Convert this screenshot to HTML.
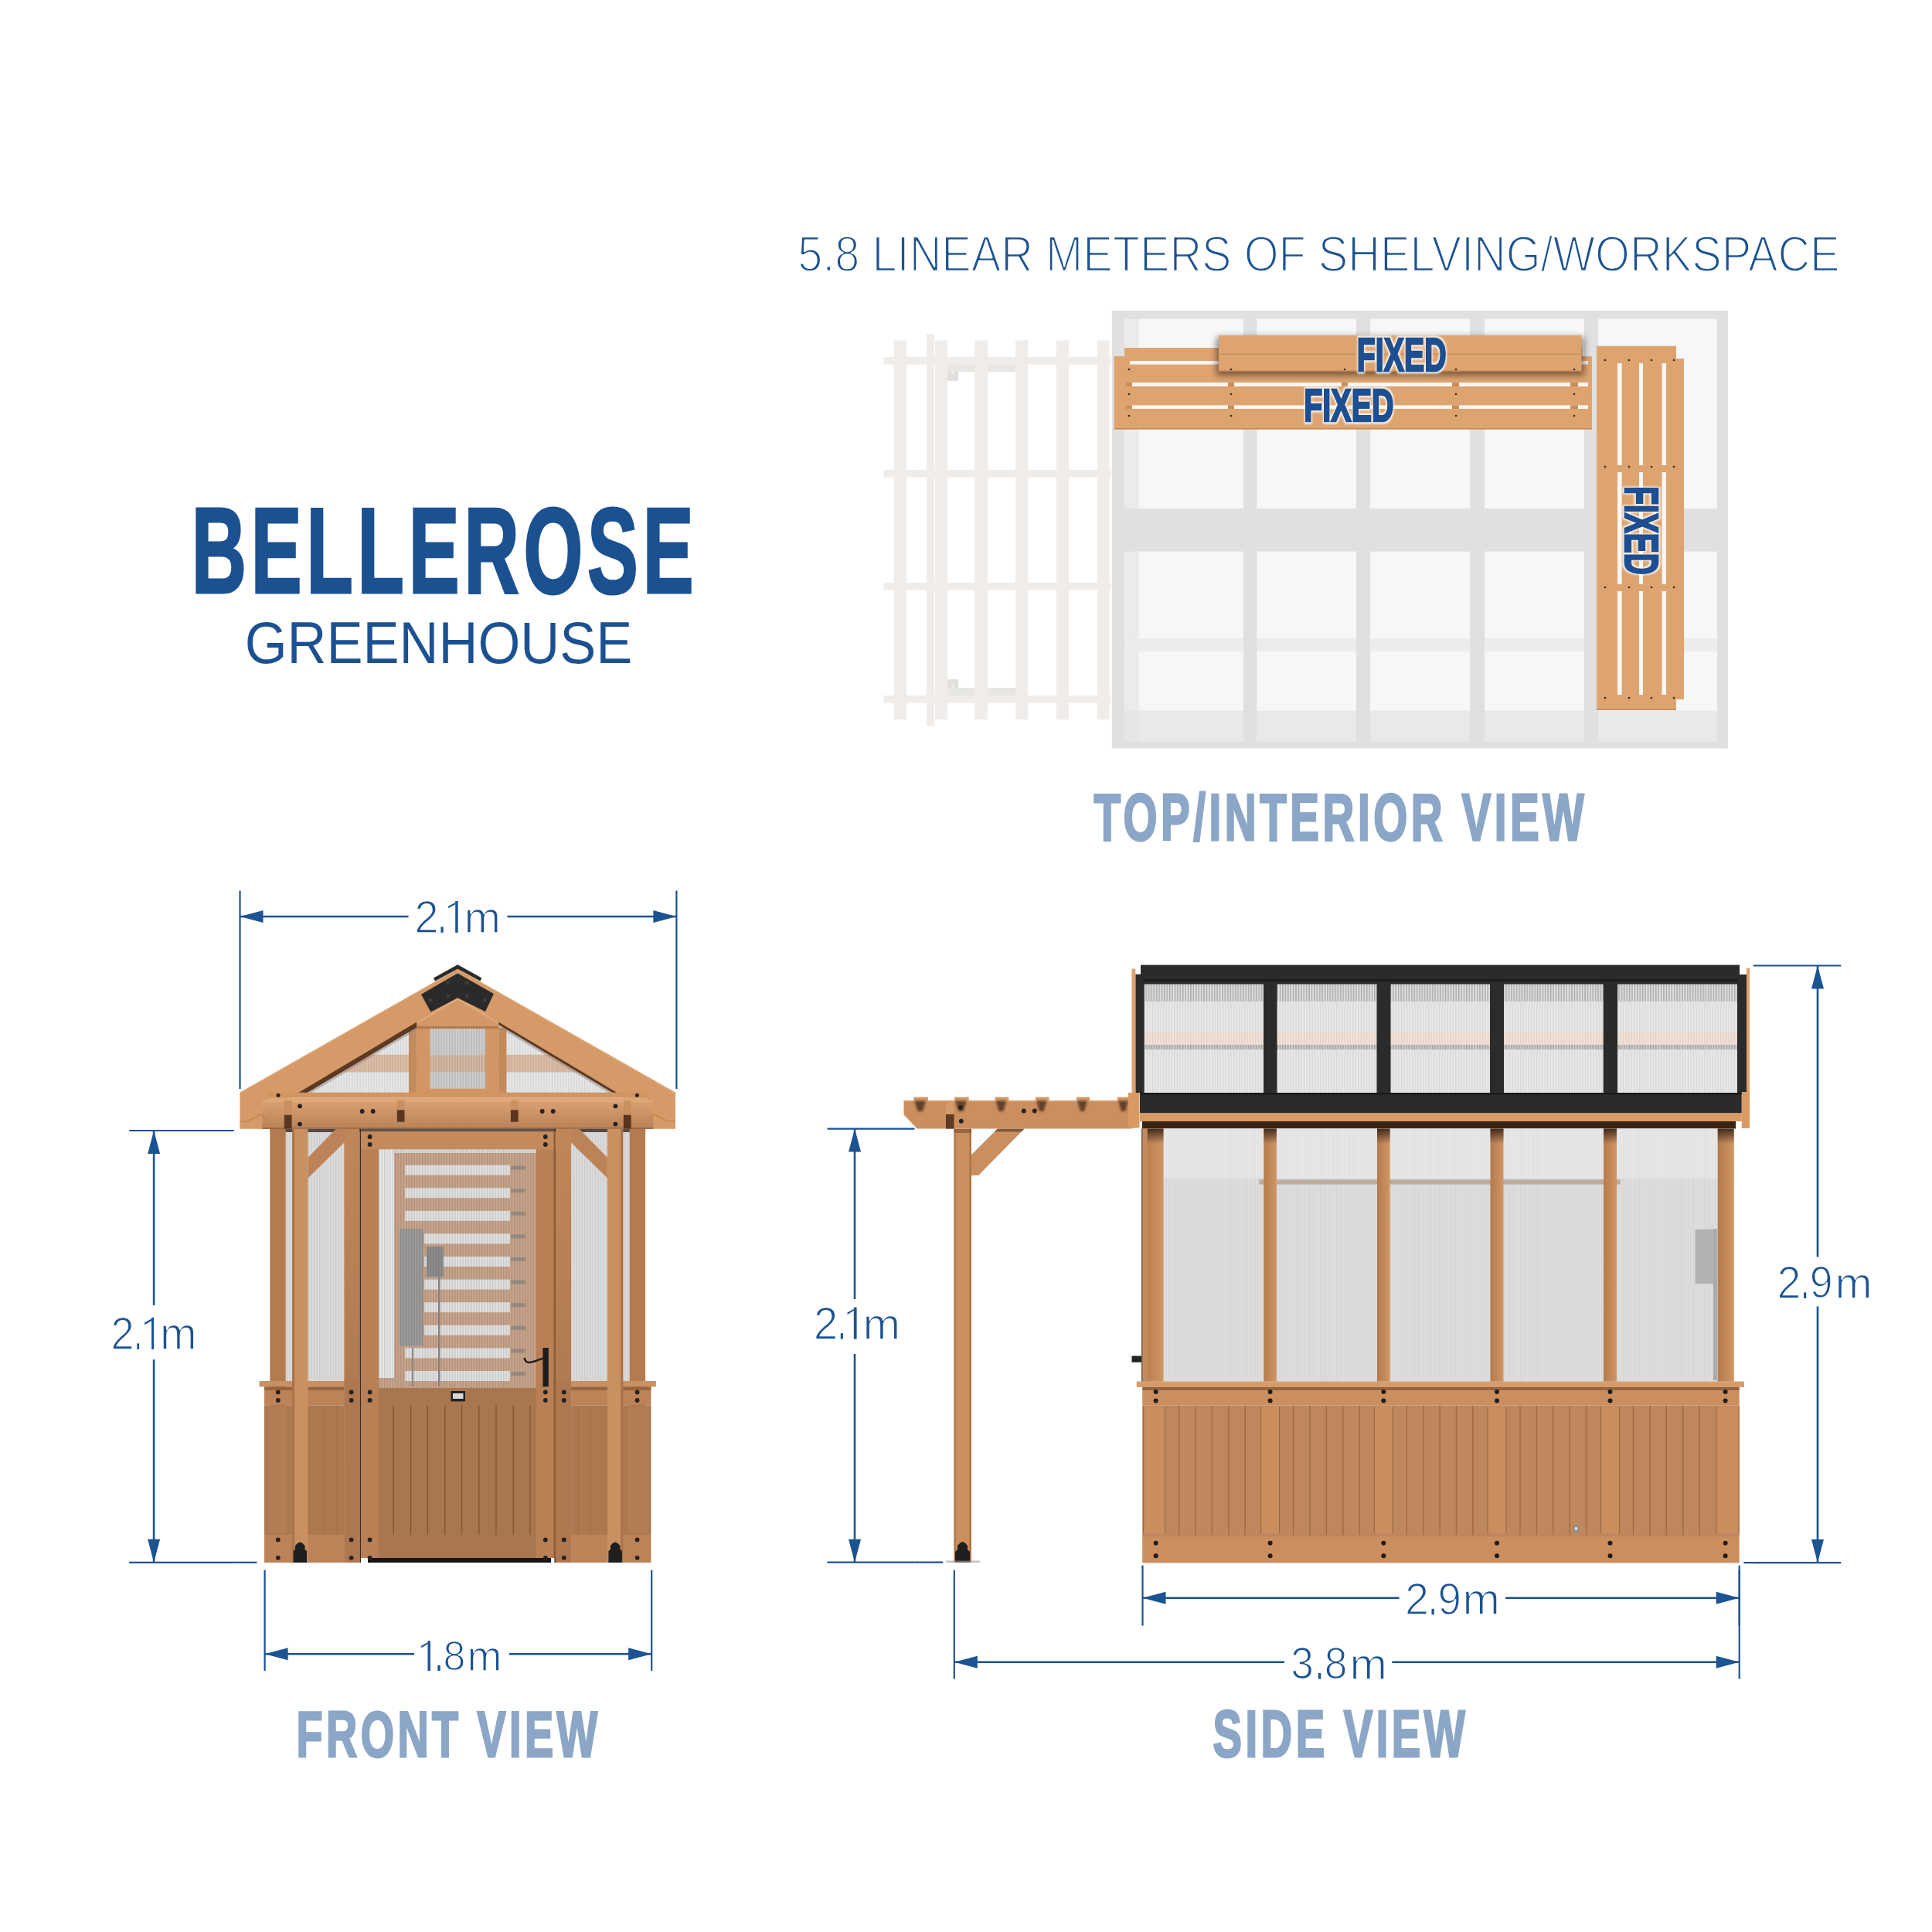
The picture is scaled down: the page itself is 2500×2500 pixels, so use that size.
<!DOCTYPE html><html><head><meta charset="utf-8"><style>html,body{margin:0;padding:0;background:#fff;overflow:hidden}svg{display:block}</style></head><body><svg width="2500" height="2500" viewBox="0 0 2500 2500"><rect width="2500" height="2500" fill="#fff"/><rect x="1143.50" y="462.00" width="293.50" height="9.60" fill="#efece9"/>
<rect x="1143.50" y="608.00" width="293.50" height="9.60" fill="#efece9"/>
<rect x="1143.50" y="754.00" width="293.50" height="9.50" fill="#efece9"/>
<rect x="1143.50" y="900.00" width="293.50" height="9.50" fill="#efece9"/>
<rect x="1226.00" y="471.60" width="14.00" height="21.40" fill="#e2e0dd"/>
<rect x="1226.00" y="471.60" width="88.00" height="9.40" fill="#e8e6e3"/>
<rect x="1226.00" y="879.00" width="14.00" height="21.00" fill="#e2e0dd"/>
<rect x="1226.00" y="890.00" width="88.00" height="10.00" fill="#e8e6e3"/>
<circle cx="1233.00" cy="482.00" r="1.4" fill="#f8f8f8"/>
<circle cx="1233.00" cy="888.00" r="1.4" fill="#f8f8f8"/>
<rect x="1157.00" y="440.50" width="16.00" height="490.50" fill="#efece9"/>
<rect x="1199.00" y="432.00" width="10.00" height="507.00" fill="#efece9"/>
<rect x="1210.00" y="440.50" width="16.00" height="490.50" fill="#efece9"/>
<rect x="1261.00" y="440.50" width="17.00" height="490.50" fill="#efece9"/>
<rect x="1314.00" y="440.50" width="16.00" height="490.50" fill="#efece9"/>
<rect x="1367.00" y="440.50" width="16.00" height="490.50" fill="#efece9"/>
<rect x="1420.00" y="440.50" width="15.50" height="490.50" fill="#efece9"/>
<rect x="1438.80" y="402.00" width="797.20" height="566.50" fill="#e0e0e0"/>
<rect x="1454.80" y="412.60" width="18.80" height="245.40" fill="#ebebeb"/>
<rect x="1473.60" y="412.60" width="135.40" height="245.40" fill="#f7f7f7"/>
<rect x="1626.50" y="412.60" width="128.50" height="245.40" fill="#f7f7f7"/>
<rect x="1773.00" y="412.60" width="129.00" height="245.40" fill="#f7f7f7"/>
<rect x="1921.00" y="412.60" width="129.00" height="245.40" fill="#f7f7f7"/>
<rect x="2068.00" y="412.60" width="154.00" height="245.40" fill="#f7f7f7"/>
<rect x="1454.80" y="713.60" width="18.80" height="112.90" fill="#ebebeb"/>
<rect x="1473.60" y="713.60" width="135.40" height="112.90" fill="#f7f7f7"/>
<rect x="1626.50" y="713.60" width="128.50" height="112.90" fill="#f7f7f7"/>
<rect x="1773.00" y="713.60" width="129.00" height="112.90" fill="#f7f7f7"/>
<rect x="1921.00" y="713.60" width="129.00" height="112.90" fill="#f7f7f7"/>
<rect x="2068.00" y="713.60" width="154.00" height="112.90" fill="#f7f7f7"/>
<rect x="1454.80" y="842.40" width="18.80" height="117.00" fill="#ebebeb"/>
<rect x="1473.60" y="842.40" width="135.40" height="117.00" fill="#f7f7f7"/>
<rect x="1626.50" y="842.40" width="128.50" height="117.00" fill="#f7f7f7"/>
<rect x="1773.00" y="842.40" width="129.00" height="117.00" fill="#f7f7f7"/>
<rect x="1921.00" y="842.40" width="129.00" height="117.00" fill="#f7f7f7"/>
<rect x="2068.00" y="842.40" width="154.00" height="117.00" fill="#f7f7f7"/>
<rect x="1473.60" y="826.50" width="135.40" height="15.90" fill="#ececeb"/>
<rect x="1626.50" y="826.50" width="128.50" height="15.90" fill="#ececeb"/>
<rect x="1773.00" y="826.50" width="129.00" height="15.90" fill="#ececeb"/>
<rect x="1921.00" y="826.50" width="129.00" height="15.90" fill="#ececeb"/>
<rect x="2068.00" y="826.50" width="154.00" height="15.90" fill="#ececeb"/>
<rect x="1454.80" y="826.50" width="18.80" height="15.90" fill="#ececeb"/>
<rect x="1473.60" y="919.70" width="135.40" height="39.70" fill="#e9e9e9"/>
<rect x="1626.50" y="919.70" width="128.50" height="39.70" fill="#e9e9e9"/>
<rect x="1773.00" y="919.70" width="129.00" height="39.70" fill="#e9e9e9"/>
<rect x="1921.00" y="919.70" width="129.00" height="39.70" fill="#e9e9e9"/>
<rect x="2068.00" y="919.70" width="154.00" height="39.70" fill="#e9e9e9"/>
<rect x="1454.80" y="919.70" width="18.80" height="39.70" fill="#e6e6e6"/>
<rect x="1441.60" y="461.00" width="618.40" height="94.50" fill="#dea470"/>
<rect x="1455.00" y="450.00" width="592.00" height="20.00" fill="#dea470"/>
<rect x="1462.00" y="467.00" width="593.00" height="4.60" fill="#fbf6f1"/>
<rect x="1462.00" y="495.00" width="593.00" height="5.00" fill="#fbf6f1"/>
<rect x="1462.00" y="524.40" width="593.00" height="4.60" fill="#fbf6f1"/>
<rect x="1457.00" y="495.00" width="8.00" height="5.00" fill="#c98d5b"/>
<rect x="1457.00" y="524.40" width="8.00" height="4.60" fill="#c98d5b"/>
<rect x="1589.00" y="495.00" width="8.00" height="5.00" fill="#c98d5b"/>
<rect x="1589.00" y="524.40" width="8.00" height="4.60" fill="#c98d5b"/>
<rect x="1736.00" y="495.00" width="8.00" height="5.00" fill="#c98d5b"/>
<rect x="1736.00" y="524.40" width="8.00" height="4.60" fill="#c98d5b"/>
<rect x="1879.00" y="495.00" width="9.00" height="5.00" fill="#c98d5b"/>
<rect x="1879.00" y="524.40" width="9.00" height="4.60" fill="#c98d5b"/>
<rect x="2032.00" y="495.00" width="10.00" height="5.00" fill="#c98d5b"/>
<rect x="2032.00" y="524.40" width="10.00" height="4.60" fill="#c98d5b"/>
<rect x="1441.60" y="554.00" width="618.40" height="1.50" fill="#c48a58"/>
<defs><filter id="sh" x="-10%" y="-50%" width="120%" height="200%"><feGaussianBlur stdDeviation="4"/></filter><filter id="glow" x="-20%" y="-40%" width="140%" height="180%"><feMorphology operator="dilate" radius="3"/><feGaussianBlur stdDeviation="3"/></filter></defs>
<rect x="1574.00" y="436.00" width="476.00" height="50.00" fill="#000" opacity="0.45" filter="url(#sh)"/>
<rect x="1577.00" y="434.00" width="469.50" height="47.00" fill="#dea470"/>
<rect x="1577.00" y="457.50" width="469.50" height="1.50" fill="#c8905e"/>
<rect x="1577.00" y="479.50" width="469.50" height="1.50" fill="#b98150"/>
<rect x="2066.00" y="447.70" width="103.00" height="471.30" fill="#dea470"/>
<rect x="2093.00" y="464.00" width="86.00" height="441.00" fill="#dea470"/>
<rect x="2093.00" y="470.00" width="5.60" height="132.00" fill="#fbf6f1"/>
<rect x="2093.00" y="611.00" width="5.60" height="145.00" fill="#fbf6f1"/>
<rect x="2093.00" y="765.00" width="5.60" height="134.00" fill="#fbf6f1"/>
<rect x="2121.00" y="470.00" width="5.00" height="132.00" fill="#fbf6f1"/>
<rect x="2121.00" y="611.00" width="5.00" height="145.00" fill="#fbf6f1"/>
<rect x="2121.00" y="765.00" width="5.00" height="134.00" fill="#fbf6f1"/>
<rect x="2150.50" y="470.00" width="5.50" height="132.00" fill="#fbf6f1"/>
<rect x="2150.50" y="611.00" width="5.50" height="145.00" fill="#fbf6f1"/>
<rect x="2150.50" y="765.00" width="5.50" height="134.00" fill="#fbf6f1"/>
<rect x="2066.00" y="917.50" width="103.00" height="1.50" fill="#c48a58"/>
<circle cx="1461.00" cy="478.00" r="1.3" fill="#3a2a1e"/>
<circle cx="1461.00" cy="510.00" r="1.3" fill="#3a2a1e"/>
<circle cx="1461.00" cy="538.00" r="1.3" fill="#3a2a1e"/>
<circle cx="1593.00" cy="478.00" r="1.3" fill="#3a2a1e"/>
<circle cx="1593.00" cy="510.00" r="1.3" fill="#3a2a1e"/>
<circle cx="1593.00" cy="538.00" r="1.3" fill="#3a2a1e"/>
<circle cx="1740.00" cy="478.00" r="1.3" fill="#3a2a1e"/>
<circle cx="1740.00" cy="510.00" r="1.3" fill="#3a2a1e"/>
<circle cx="1740.00" cy="538.00" r="1.3" fill="#3a2a1e"/>
<circle cx="1884.00" cy="478.00" r="1.3" fill="#3a2a1e"/>
<circle cx="1884.00" cy="510.00" r="1.3" fill="#3a2a1e"/>
<circle cx="1884.00" cy="538.00" r="1.3" fill="#3a2a1e"/>
<circle cx="2037.00" cy="478.00" r="1.3" fill="#3a2a1e"/>
<circle cx="2037.00" cy="510.00" r="1.3" fill="#3a2a1e"/>
<circle cx="2037.00" cy="538.00" r="1.3" fill="#3a2a1e"/>
<circle cx="2077.00" cy="466.00" r="1.3" fill="#3a2a1e"/>
<circle cx="2108.00" cy="466.00" r="1.3" fill="#3a2a1e"/>
<circle cx="2137.00" cy="466.00" r="1.3" fill="#3a2a1e"/>
<circle cx="2166.00" cy="466.00" r="1.3" fill="#3a2a1e"/>
<circle cx="2077.00" cy="604.00" r="1.3" fill="#3a2a1e"/>
<circle cx="2108.00" cy="604.00" r="1.3" fill="#3a2a1e"/>
<circle cx="2137.00" cy="604.00" r="1.3" fill="#3a2a1e"/>
<circle cx="2166.00" cy="604.00" r="1.3" fill="#3a2a1e"/>
<circle cx="2077.00" cy="760.00" r="1.3" fill="#3a2a1e"/>
<circle cx="2108.00" cy="760.00" r="1.3" fill="#3a2a1e"/>
<circle cx="2137.00" cy="760.00" r="1.3" fill="#3a2a1e"/>
<circle cx="2166.00" cy="760.00" r="1.3" fill="#3a2a1e"/>
<circle cx="2077.00" cy="903.00" r="1.3" fill="#3a2a1e"/>
<circle cx="2108.00" cy="903.00" r="1.3" fill="#3a2a1e"/>
<circle cx="2137.00" cy="903.00" r="1.3" fill="#3a2a1e"/>
<circle cx="2166.00" cy="903.00" r="1.3" fill="#3a2a1e"/>
<text transform="translate(1755.84,480.00) scale(0.3936,0.6032)" font-family="Liberation Sans" font-weight="bold" font-size="100" letter-spacing="0" fill="#ffffff" filter="url(#glow)" stroke="#ffffff" stroke-width="4.414" stroke-linejoin="miter">FIXED</text><text transform="translate(1755.84,480.00) scale(0.3936,0.6032)" font-family="Liberation Sans" font-weight="bold" font-size="100" letter-spacing="0" fill="#1e4f91" stroke="#1e4f91" stroke-width="4.414" stroke-linejoin="miter">FIXED</text>
<text transform="translate(1687.24,545.00) scale(0.3947,0.6003)" font-family="Liberation Sans" font-weight="bold" font-size="100" letter-spacing="0" fill="#ffffff" filter="url(#glow)" stroke="#ffffff" stroke-width="4.422" stroke-linejoin="miter">FIXED</text><text transform="translate(1687.24,545.00) scale(0.3947,0.6003)" font-family="Liberation Sans" font-weight="bold" font-size="100" letter-spacing="0" fill="#1e4f91" stroke="#1e4f91" stroke-width="4.422" stroke-linejoin="miter">FIXED</text>
<g transform="rotate(90 2124.0 687.0)"><text transform="translate(2066.28,708.00) scale(0.3887,0.6105)" font-family="Liberation Sans" font-weight="bold" font-size="100" letter-spacing="0" fill="#ffffff" filter="url(#glow)" stroke="#ffffff" stroke-width="4.404" stroke-linejoin="miter">FIXED</text><text transform="translate(2066.28,708.00) scale(0.3887,0.6105)" font-family="Liberation Sans" font-weight="bold" font-size="100" letter-spacing="0" fill="#1e4f91" stroke="#1e4f91" stroke-width="4.404" stroke-linejoin="miter">FIXED</text></g>
<defs><pattern id="flute" width="3.5" height="20" patternUnits="userSpaceOnUse"><rect width="1.3" height="20" fill="#000" opacity="0.07"/></pattern><pattern id="flute2" width="3.5" height="20" patternUnits="userSpaceOnUse"><rect width="1.4" height="20" fill="#000" opacity="0.12"/></pattern><pattern id="flute3" width="3.5" height="20" patternUnits="userSpaceOnUse"><rect width="1.3" height="20" fill="#fff" opacity="0.22"/></pattern><pattern id="flute4" width="3.4" height="20" patternUnits="userSpaceOnUse"><rect width="1.5" height="20" fill="#000" opacity="0.22"/></pattern></defs>
<clipPath id="gclip"><polygon points="592.2,1291.3 370,1420 814.4,1420"/></clipPath>
<g clip-path="url(#gclip)">
<polygon points="592.20,1291.30 370.00,1420.00 814.00,1420.00" fill="#ebebeb"/>
<rect x="380.00" y="1364.50" width="424.00" height="23.20" fill="#dcbba5"/>
<rect x="380.00" y="1387.70" width="424.00" height="26.30" fill="#e6e6e6"/>
<rect x="380.00" y="1300.00" width="424.00" height="64.50" fill="#e6e6e6"/>
<rect x="370.00" y="1330.00" width="444.00" height="90.00" fill="url(#flute)"/>
</g>
<rect x="556.30" y="1331.10" width="71.80" height="77.50" fill="#cfcfcf"/>
<rect x="556.30" y="1365.30" width="71.80" height="21.70" fill="#d6b9a5"/>
<rect x="556.30" y="1331.10" width="71.80" height="77.50" fill="url(#flute2)"/>
<rect x="529.00" y="1330.00" width="10.20" height="86.00" fill="#c38a5c"/>
<rect x="645.20" y="1330.00" width="10.20" height="86.00" fill="#c38a5c"/>
<rect x="539.20" y="1327.70" width="17.10" height="88.30" fill="#d19663"/>
<rect x="628.10" y="1327.70" width="17.10" height="88.30" fill="#d19663"/>
<rect x="556.30" y="1408.60" width="71.80" height="7.40" fill="#d19663"/>
<polygon points="592.20,1291.30 539.20,1322.50 539.20,1327.70 645.20,1327.70 645.20,1322.50" fill="#d39865"/>
<polyline points="539.2,1324 592.2,1293 645.2,1324" fill="none" stroke="#e2ad7c" stroke-width="1.5"/>
<rect x="539.20" y="1327.70" width="106.00" height="3.40" fill="#b47a50"/>
<polygon points="592.20,1253.70 310.40,1413.70 310.40,1460.80 376.60,1460.80 376.60,1419.40 592.20,1291.30" fill="#d59a67"/>
<polygon points="376.60,1419.40 539.20,1322.50 539.20,1329.50 388.36,1419.40" fill="#5e3820"/>
<polygon points="388.36,1419.40 539.20,1329.50 539.20,1332.70 393.76,1419.40" fill="#8a8580" opacity="0.5"/>
<polygon points="592.20,1253.70 310.40,1413.70 310.40,1415.50 592.20,1255.50" fill="#dca572"/>
<polygon points="592.20,1253.70 874.00,1413.70 874.00,1460.80 807.80,1460.80 807.80,1419.40 592.20,1291.30" fill="#d59a67"/>
<polygon points="807.80,1419.40 645.20,1322.50 645.20,1326.10 801.75,1419.40" fill="#5e3820"/>
<polygon points="801.75,1419.40 645.20,1326.10 645.20,1329.30 796.35,1419.40" fill="#8a8580" opacity="0.5"/>
<polygon points="592.20,1253.70 874.00,1413.70 874.00,1415.50 592.20,1255.50" fill="#dca572"/>
<polygon points="592.20,1248.30 561.00,1265.50 563.00,1269.50 592.20,1253.70 621.40,1269.50 623.40,1265.50" fill="#2a2a2a"/>
<polygon points="545.00,1286.70 592.20,1259.40 638.90,1286.10 628.00,1309.00 592.20,1291.30 557.40,1309.50" fill="#2a2a2a"/>
<circle cx="579.50" cy="1272.00" r="2.6" fill="#3c3c3c"/>
<circle cx="604.50" cy="1272.00" r="2.6" fill="#3c3c3c"/>
<circle cx="579.50" cy="1289.00" r="2.6" fill="#3c3c3c"/>
<circle cx="604.50" cy="1289.00" r="2.6" fill="#3c3c3c"/>
<circle cx="557.00" cy="1294.00" r="2.6" fill="#3c3c3c"/>
<circle cx="627.50" cy="1294.00" r="2.6" fill="#3c3c3c"/>
<rect x="346.60" y="1413.70" width="491.20" height="6.70" fill="#d09561"/>
<rect x="346.60" y="1420.40" width="491.20" height="3.60" fill="#dca675"/>
<circle cx="360.00" cy="1417.30" r="2.5" fill="#262220"/>
<circle cx="824.40" cy="1417.30" r="2.5" fill="#262220"/>
<defs><linearGradient id="hg" x1="0" y1="0" x2="0" y2="1"><stop offset="0" stop-color="#dba172"/><stop offset="1" stop-color="#b98156"/></linearGradient></defs>
<rect x="339.30" y="1424.00" width="505.80" height="36.80" fill="url(#hg)"/>
<rect x="339.30" y="1424.00" width="505.80" height="2.00" fill="#e0ab7c"/>
<rect x="339.30" y="1459.00" width="505.80" height="1.80" fill="#9c6a45"/>
<polyline points="310.4,1451 320,1451 338,1442 355,1460" fill="none" stroke="#b97a47" stroke-width="1"/>
<polyline points="874.0000000000001,1451 864.4000000000001,1451 846.4000000000001,1442 829.4000000000001,1460" fill="none" stroke="#b97a47" stroke-width="1"/>
<rect x="367.80" y="1424.00" width="9.80" height="18.70" fill="#c99062"/>
<rect x="806.80" y="1424.00" width="9.80" height="18.70" fill="#c99062"/>
<rect x="367.80" y="1442.70" width="9.80" height="18.10" fill="#5a3520"/>
<rect x="806.80" y="1442.70" width="9.80" height="18.10" fill="#5a3520"/>
<rect x="513.80" y="1424.00" width="9.70" height="12.30" fill="#c99062"/>
<rect x="660.90" y="1424.00" width="9.70" height="12.30" fill="#c99062"/>
<rect x="513.80" y="1436.30" width="9.70" height="15.40" fill="#5a3520"/>
<rect x="660.90" y="1436.30" width="9.70" height="15.40" fill="#5a3520"/>
<circle cx="388.00" cy="1431.30" r="2.9" fill="#262220"/>
<circle cx="796.40" cy="1431.30" r="2.9" fill="#262220"/>
<circle cx="388.00" cy="1454.60" r="2.9" fill="#262220"/>
<circle cx="796.40" cy="1454.60" r="2.9" fill="#262220"/>
<circle cx="468.70" cy="1438.00" r="2.9" fill="#262220"/>
<circle cx="715.70" cy="1438.00" r="2.9" fill="#262220"/>
<circle cx="482.70" cy="1438.00" r="2.9" fill="#262220"/>
<circle cx="701.70" cy="1438.00" r="2.9" fill="#262220"/>
<rect x="369.80" y="1460.80" width="75.50" height="326.20" fill="#dcdcdc"/>
<rect x="739.10" y="1460.80" width="75.50" height="326.20" fill="#dcdcdc"/>
<rect x="369.80" y="1460.80" width="75.50" height="326.20" fill="url(#flute)"/>
<rect x="739.10" y="1460.80" width="75.50" height="326.20" fill="url(#flute)"/>
<rect x="349.30" y="1460.80" width="485.80" height="4.20" fill="#2a1a10" opacity="0.75"/>
<rect x="349.30" y="1460.80" width="20.50" height="561.20" fill="#b47a50"/>
<rect x="814.60" y="1460.80" width="20.50" height="561.20" fill="#b47a50"/>
<rect x="378.20" y="1460.80" width="20.30" height="561.20" fill="#c99062"/>
<rect x="785.90" y="1460.80" width="20.30" height="561.20" fill="#c99062"/>
<rect x="378.20" y="1460.80" width="2.80" height="561.20" fill="#a87048"/>
<rect x="803.40" y="1460.80" width="2.80" height="561.20" fill="#a87048"/>
<polygon points="398.50,1497.80 434.80,1460.80 463.50,1460.80 398.50,1524.40" fill="#bd8358"/>
<polygon points="785.90,1497.80 749.60,1460.80 720.90,1460.80 785.90,1524.40" fill="#bd8358"/>
<defs><linearGradient id="dfp" x1="0" y1="0" x2="0" y2="1"><stop offset="0" stop-color="#c08659"/><stop offset="0.5" stop-color="#b27c53"/><stop offset="1" stop-color="#a9764f"/></linearGradient></defs>
<rect x="445.30" y="1460.80" width="20.20" height="561.20" fill="url(#dfp)"/>
<rect x="718.90" y="1460.80" width="20.20" height="561.20" fill="url(#dfp)"/>
<rect x="465.50" y="1460.80" width="1.50" height="561.20" fill="#3a2a20"/>
<rect x="717.40" y="1460.80" width="1.50" height="561.20" fill="#3a2a20"/>
<rect x="335.60" y="1787.00" width="109.70" height="7.40" fill="#c99062"/>
<rect x="342.00" y="1794.40" width="103.30" height="24.00" fill="#bd8358"/>
<rect x="342.00" y="1794.40" width="103.30" height="4.60" fill="#7a4a2a" opacity="0.55"/>
<rect x="342.00" y="1818.40" width="103.30" height="167.60" fill="#ab7850"/>
<rect x="342.00" y="1986.00" width="103.30" height="36.00" fill="#bd8358"/>
<line x1="372.30" y1="1818.40" x2="372.30" y2="1986.00" stroke="#a86f42" stroke-width="1.2"/>
<line x1="398.50" y1="1818.40" x2="398.50" y2="1986.00" stroke="#a86f42" stroke-width="1.2"/>
<line x1="420.00" y1="1818.40" x2="420.00" y2="1986.00" stroke="#a86f42" stroke-width="1.2"/>
<line x1="436.00" y1="1818.40" x2="436.00" y2="1986.00" stroke="#a86f42" stroke-width="1.2"/>
<rect x="345.90" y="1820.00" width="26.40" height="164.00" fill="#b27d55"/>
<rect x="739.10" y="1787.00" width="109.70" height="7.40" fill="#c99062"/>
<rect x="739.10" y="1794.40" width="103.30" height="24.00" fill="#bd8358"/>
<rect x="739.10" y="1794.40" width="103.30" height="4.60" fill="#7a4a2a" opacity="0.55"/>
<rect x="739.10" y="1818.40" width="103.30" height="167.60" fill="#ab7850"/>
<rect x="739.10" y="1986.00" width="103.30" height="36.00" fill="#bd8358"/>
<line x1="812.10" y1="1818.40" x2="812.10" y2="1986.00" stroke="#a86f42" stroke-width="1.2"/>
<line x1="785.90" y1="1818.40" x2="785.90" y2="1986.00" stroke="#a86f42" stroke-width="1.2"/>
<line x1="764.40" y1="1818.40" x2="764.40" y2="1986.00" stroke="#a86f42" stroke-width="1.2"/>
<line x1="748.40" y1="1818.40" x2="748.40" y2="1986.00" stroke="#a86f42" stroke-width="1.2"/>
<rect x="812.10" y="1820.00" width="26.40" height="164.00" fill="#b27d55"/>
<rect x="378.20" y="1787.00" width="20.30" height="235.00" fill="#c99062"/>
<rect x="785.90" y="1787.00" width="20.30" height="235.00" fill="#c99062"/>
<rect x="378.20" y="1787.00" width="2.80" height="235.00" fill="#a87048"/>
<rect x="803.40" y="1787.00" width="2.80" height="235.00" fill="#a87048"/>
<rect x="445.30" y="1787.00" width="20.20" height="235.00" fill="#ad7850"/>
<rect x="718.90" y="1787.00" width="20.20" height="235.00" fill="#ad7850"/>
<rect x="467.00" y="1464.30" width="251.60" height="551.70" fill="#b98055"/>
<rect x="467.00" y="1464.30" width="251.60" height="23.00" fill="#c48a5b"/>
<rect x="490.00" y="1487.30" width="203.70" height="308.70" fill="#c9a58c"/>
<rect x="490.00" y="1487.30" width="20.00" height="295.70" fill="#e8e8e8"/>
<rect x="524.20" y="1507.60" width="135.80" height="13.00" fill="#e2e2e2"/>
<rect x="661.40" y="1508.60" width="18.60" height="5.00" fill="#9c8f86"/>
<rect x="524.20" y="1537.20" width="135.80" height="13.00" fill="#e2e2e2"/>
<rect x="661.40" y="1538.20" width="18.60" height="5.00" fill="#9c8f86"/>
<rect x="524.20" y="1566.80" width="135.80" height="13.00" fill="#e2e2e2"/>
<rect x="661.40" y="1567.80" width="18.60" height="5.00" fill="#9c8f86"/>
<rect x="549.00" y="1596.40" width="111.00" height="13.00" fill="#e2e2e2"/>
<rect x="661.40" y="1597.40" width="18.60" height="5.00" fill="#9c8f86"/>
<rect x="549.00" y="1626.00" width="111.00" height="13.00" fill="#e2e2e2"/>
<rect x="661.40" y="1627.00" width="18.60" height="5.00" fill="#9c8f86"/>
<rect x="549.00" y="1655.60" width="111.00" height="13.00" fill="#e2e2e2"/>
<rect x="661.40" y="1656.60" width="18.60" height="5.00" fill="#9c8f86"/>
<rect x="549.00" y="1685.20" width="111.00" height="13.00" fill="#e2e2e2"/>
<rect x="661.40" y="1686.20" width="18.60" height="5.00" fill="#9c8f86"/>
<rect x="549.00" y="1714.80" width="111.00" height="13.00" fill="#e2e2e2"/>
<rect x="661.40" y="1715.80" width="18.60" height="5.00" fill="#9c8f86"/>
<rect x="524.20" y="1744.40" width="135.80" height="13.00" fill="#e2e2e2"/>
<rect x="661.40" y="1745.40" width="18.60" height="5.00" fill="#9c8f86"/>
<rect x="524.20" y="1774.00" width="135.80" height="13.00" fill="#e2e2e2"/>
<rect x="661.40" y="1775.00" width="18.60" height="5.00" fill="#9c8f86"/>
<rect x="508.00" y="1487.30" width="185.70" height="4.70" fill="#d9d9d9"/>
<rect x="517.00" y="1590.00" width="30.70" height="151.50" fill="#9b9b9b"/>
<rect x="552.00" y="1613.00" width="21.80" height="39.00" fill="#8e8e8e"/>
<rect x="567.00" y="1652.00" width="2.50" height="142.00" fill="#8e8e8e"/>
<rect x="533.00" y="1744.00" width="2.00" height="50.00" fill="#8e8e8e"/>
<rect x="490.00" y="1487.30" width="203.70" height="308.70" fill="url(#flute2)"/>
<rect x="716.50" y="1464.30" width="2.10" height="551.70" fill="#8a5a35"/>
<rect x="490.00" y="1796.00" width="203.70" height="22.40" fill="#a8764f"/>
<rect x="583.50" y="1800.00" width="18.50" height="13.40" fill="#222"/>
<rect x="586.00" y="1803.00" width="13.50" height="7.00" fill="#d8d8d8"/>
<rect x="490.00" y="1818.40" width="203.70" height="167.60" fill="#a8764f"/>
<line x1="509.00" y1="1818.40" x2="509.00" y2="1986.00" stroke="#7e5434" stroke-width="1.3"/>
<line x1="531.60" y1="1818.40" x2="531.60" y2="1986.00" stroke="#7e5434" stroke-width="1.3"/>
<line x1="553.40" y1="1818.40" x2="553.40" y2="1986.00" stroke="#7e5434" stroke-width="1.3"/>
<line x1="575.70" y1="1818.40" x2="575.70" y2="1986.00" stroke="#7e5434" stroke-width="1.3"/>
<line x1="597.50" y1="1818.40" x2="597.50" y2="1986.00" stroke="#7e5434" stroke-width="1.3"/>
<line x1="619.80" y1="1818.40" x2="619.80" y2="1986.00" stroke="#7e5434" stroke-width="1.3"/>
<line x1="641.90" y1="1818.40" x2="641.90" y2="1986.00" stroke="#7e5434" stroke-width="1.3"/>
<line x1="664.20" y1="1818.40" x2="664.20" y2="1986.00" stroke="#7e5434" stroke-width="1.3"/>
<line x1="686.00" y1="1818.40" x2="686.00" y2="1986.00" stroke="#7e5434" stroke-width="1.3"/>
<rect x="490.00" y="1986.00" width="203.70" height="30.00" fill="#a8764f"/>
<rect x="476.00" y="2016.00" width="237.00" height="6.00" fill="#151515"/>
<rect x="702.40" y="1744.00" width="7.40" height="50.30" fill="#1e1e1e"/>
<path d="M707,1757 C700,1757 692,1763 684,1763 C680,1763 679,1759 678.5,1757" fill="none" stroke="#1e1e1e" stroke-width="2.6"/>
<circle cx="359.80" cy="1801.50" r="2.9" fill="#262220"/>
<circle cx="824.60" cy="1801.50" r="2.9" fill="#262220"/>
<circle cx="359.80" cy="1812.00" r="2.9" fill="#262220"/>
<circle cx="824.60" cy="1812.00" r="2.9" fill="#262220"/>
<circle cx="359.80" cy="1992.40" r="2.9" fill="#262220"/>
<circle cx="824.60" cy="1992.40" r="2.9" fill="#262220"/>
<circle cx="359.80" cy="2015.80" r="2.9" fill="#262220"/>
<circle cx="824.60" cy="2015.80" r="2.9" fill="#262220"/>
<circle cx="454.60" cy="1801.50" r="2.9" fill="#262220"/>
<circle cx="729.80" cy="1801.50" r="2.9" fill="#262220"/>
<circle cx="454.60" cy="1812.00" r="2.9" fill="#262220"/>
<circle cx="729.80" cy="1812.00" r="2.9" fill="#262220"/>
<circle cx="454.60" cy="1992.40" r="2.9" fill="#262220"/>
<circle cx="729.80" cy="1992.40" r="2.9" fill="#262220"/>
<circle cx="454.60" cy="2015.80" r="2.9" fill="#262220"/>
<circle cx="729.80" cy="2015.80" r="2.9" fill="#262220"/>
<circle cx="478.60" cy="1801.50" r="2.9" fill="#262220"/>
<circle cx="705.80" cy="1801.50" r="2.9" fill="#262220"/>
<circle cx="478.60" cy="1812.00" r="2.9" fill="#262220"/>
<circle cx="705.80" cy="1812.00" r="2.9" fill="#262220"/>
<circle cx="478.60" cy="1992.40" r="2.9" fill="#262220"/>
<circle cx="705.80" cy="1992.40" r="2.9" fill="#262220"/>
<circle cx="478.60" cy="2015.80" r="2.9" fill="#262220"/>
<circle cx="705.80" cy="2015.80" r="2.9" fill="#262220"/>
<circle cx="478.60" cy="1471.00" r="2.9" fill="#262220"/>
<circle cx="705.80" cy="1471.00" r="2.9" fill="#262220"/>
<circle cx="478.60" cy="1481.00" r="2.9" fill="#262220"/>
<circle cx="705.80" cy="1481.00" r="2.9" fill="#262220"/>
<polygon points="379.50,2022.00 379.50,2007.00 382.00,2005.00 382.00,2000.00 385.00,1997.00 388.30,1995.50 391.60,1997.00 394.50,2000.00 394.50,2005.00 397.00,2007.00 397.00,2022.00" fill="#1f1f1f"/>
<polygon points="804.90,2022.00 804.90,2007.00 802.40,2005.00 802.40,2000.00 799.40,1997.00 796.10,1995.50 792.80,1997.00 789.90,2000.00 789.90,2005.00 787.40,2007.00 787.40,2022.00" fill="#1f1f1f"/>
<rect x="1234.50" y="1460.60" width="22.30" height="561.10" fill="#cb8e5e"/>
<rect x="1234.50" y="1460.60" width="2.50" height="561.10" fill="#b57a4d"/>
<rect x="1254.50" y="1460.60" width="2.30" height="561.10" fill="#a8703f"/>
<rect x="1234.50" y="1460.60" width="22.30" height="5.40" fill="#5e3a22" opacity="0.45"/>
<polygon points="1256.80,1494.50 1290.80,1460.60 1325.60,1460.60 1266.00,1521.00 1256.80,1521.00" fill="#cb8e5e"/>
<polygon points="1290.80,1460.60 1325.60,1460.60 1322.00,1464.50 1287.00,1464.50" fill="#3a2418" opacity="0.5"/>
<polygon points="1169.50,1424.20 1464.60,1424.20 1464.60,1460.60 1186.60,1460.60 1169.50,1442.20" fill="#cb8e5e"/>
<rect x="1169.50" y="1424.20" width="295.10" height="1.80" fill="#d49a68"/>
<defs><filter id="tabblur" x="-30%" y="-30%" width="160%" height="160%"><feGaussianBlur stdDeviation="1.6"/></filter></defs>
<rect x="1182.30" y="1419.60" width="18.70" height="4.60" fill="#d49a68"/>
<polygon points="1183.30,1424.20 1198.00,1424.20 1194.00,1438.00 1187.30,1438.00" fill="#4a2e1c" opacity="0.8" filter="url(#tabblur)"/>
<rect x="1235.00" y="1419.60" width="18.70" height="4.60" fill="#d49a68"/>
<polygon points="1236.00,1424.20 1250.70,1424.20 1246.70,1438.00 1240.00,1438.00" fill="#4a2e1c" opacity="0.8" filter="url(#tabblur)"/>
<rect x="1287.60" y="1419.60" width="17.70" height="4.60" fill="#d49a68"/>
<polygon points="1288.60,1424.20 1302.30,1424.20 1298.30,1438.00 1292.60,1438.00" fill="#4a2e1c" opacity="0.8" filter="url(#tabblur)"/>
<rect x="1340.00" y="1419.60" width="17.50" height="4.60" fill="#d49a68"/>
<polygon points="1341.00,1424.20 1354.50,1424.20 1350.50,1438.00 1345.00,1438.00" fill="#4a2e1c" opacity="0.8" filter="url(#tabblur)"/>
<rect x="1393.00" y="1419.60" width="17.00" height="4.60" fill="#d49a68"/>
<polygon points="1394.00,1424.20 1407.00,1424.20 1403.00,1438.00 1398.00,1438.00" fill="#4a2e1c" opacity="0.8" filter="url(#tabblur)"/>
<rect x="1446.00" y="1419.60" width="17.00" height="4.60" fill="#d49a68"/>
<polygon points="1447.00,1424.20 1460.00,1424.20 1456.00,1438.00 1451.00,1438.00" fill="#4a2e1c" opacity="0.8" filter="url(#tabblur)"/>
<rect x="1224.00" y="1424.20" width="10.50" height="17.80" fill="#d49a68"/>
<rect x="1224.00" y="1442.00" width="10.50" height="18.60" fill="#5e3a22"/>
<circle cx="1243.80" cy="1450.70" r="2.9" fill="#242020"/>
<circle cx="1243.00" cy="1433.00" r="2.9" fill="#242020"/>
<circle cx="1324.80" cy="1437.50" r="2.9" fill="#242020"/>
<circle cx="1338.80" cy="1437.50" r="2.9" fill="#242020"/>
<polygon points="1236.00,2021.70 1236.00,2008.00 1239.00,2005.00 1239.00,2000.00 1242.50,1996.50 1245.60,1995.00 1248.70,1996.50 1252.00,2000.00 1252.00,2005.00 1255.00,2008.00 1255.00,2021.70" fill="#1f1f1f"/>
<rect x="1224.00" y="2019.50" width="44.00" height="2.50" fill="#9a9a9a" opacity="0.6"/>
<rect x="1480.70" y="1273.00" width="767.30" height="141.00" fill="#e8e8e8"/>
<rect x="1480.70" y="1273.00" width="767.30" height="23.00" fill="#e4e4e4"/>
<rect x="1480.70" y="1273.00" width="767.30" height="23.00" fill="url(#flute4)"/>
<rect x="1480.70" y="1336.00" width="767.30" height="16.00" fill="#f2e1d6"/>
<rect x="1480.70" y="1352.00" width="767.30" height="6.00" fill="#d4d4d4"/>
<rect x="1480.70" y="1352.00" width="767.30" height="6.00" fill="url(#flute4)"/>
<rect x="1480.70" y="1273.00" width="767.30" height="141.00" fill="url(#flute)"/>
<rect x="1476.00" y="1248.60" width="775.00" height="24.90" fill="#2b2b2b"/>
<rect x="1476.00" y="1267.00" width="775.00" height="3.00" fill="#1c1c1c"/>
<rect x="1469.30" y="1260.70" width="11.40" height="153.30" fill="#2b2b2b"/>
<rect x="2248.00" y="1261.00" width="12.00" height="153.00" fill="#2b2b2b"/>
<rect x="1464.50" y="1253.50" width="4.80" height="206.00" fill="#dfa06a"/>
<rect x="2260.00" y="1252.60" width="4.00" height="207.40" fill="#dfa06a"/>
<rect x="1635.00" y="1272.00" width="17.50" height="142.00" fill="#2b2b2b"/>
<rect x="1781.50" y="1272.00" width="18.00" height="142.00" fill="#2b2b2b"/>
<rect x="1928.00" y="1272.00" width="18.00" height="142.00" fill="#2b2b2b"/>
<rect x="2074.70" y="1272.00" width="18.30" height="142.00" fill="#2b2b2b"/>
<rect x="1475.00" y="1414.00" width="778.80" height="26.50" fill="#2b2b2b"/>
<rect x="1475.00" y="1414.00" width="778.80" height="2.50" fill="#1a1a1a"/>
<rect x="1475.00" y="1440.50" width="778.80" height="10.50" fill="#d99a63"/>
<rect x="1460.00" y="1414.00" width="14.50" height="45.50" fill="#d99a63"/>
<rect x="2253.80" y="1413.00" width="10.20" height="47.00" fill="#d99a63"/>
<rect x="1478.00" y="1451.00" width="768.00" height="9.50" fill="#3a2418"/>
<rect x="1478.60" y="1460.50" width="765.40" height="327.10" fill="#dedede"/>
<rect x="1478.60" y="1460.50" width="765.40" height="64.00" fill="#e8e8e8"/>
<rect x="1478.60" y="1460.50" width="765.40" height="64.00" fill="url(#flute)"/>
<rect x="1629.30" y="1526.40" width="467.40" height="6.20" fill="#bcaa9b"/>
<rect x="2193.50" y="1590.80" width="28.50" height="70.20" fill="#b0b0b0"/>
<rect x="2217.00" y="1590.00" width="5.00" height="196.00" fill="#a8a8a8"/>
<rect x="1478.60" y="1460.50" width="765.40" height="327.10" fill="url(#flute3)"/>
<rect x="1478.60" y="1524.50" width="765.40" height="263.10" fill="url(#flute)"/>
<defs><linearGradient id="pshade" x1="0" y1="0" x2="0" y2="1"><stop offset="0" stop-color="#2a1a10" stop-opacity="0.85"/><stop offset="1" stop-color="#2a1a10" stop-opacity="0"/></linearGradient><linearGradient id="phor" x1="0" y1="0" x2="1" y2="0"><stop offset="0" stop-color="#b57a4c"/><stop offset="1" stop-color="#d09664"/></linearGradient></defs>
<rect x="1478.40" y="1460.50" width="27.10" height="327.10" fill="url(#phor)"/>
<rect x="1478.40" y="1460.50" width="27.10" height="19.50" fill="url(#pshade)"/>
<rect x="1635.30" y="1460.50" width="16.60" height="327.10" fill="url(#phor)"/>
<rect x="1635.30" y="1460.50" width="16.60" height="19.50" fill="url(#pshade)"/>
<rect x="1782.00" y="1460.50" width="16.60" height="327.10" fill="url(#phor)"/>
<rect x="1782.00" y="1460.50" width="16.60" height="19.50" fill="url(#pshade)"/>
<rect x="1928.50" y="1460.50" width="17.00" height="327.10" fill="url(#phor)"/>
<rect x="1928.50" y="1460.50" width="17.00" height="19.50" fill="url(#pshade)"/>
<rect x="2075.00" y="1460.50" width="17.00" height="327.10" fill="url(#phor)"/>
<rect x="2075.00" y="1460.50" width="17.00" height="19.50" fill="url(#pshade)"/>
<rect x="2222.70" y="1460.50" width="21.00" height="327.10" fill="url(#phor)"/>
<rect x="2222.70" y="1460.50" width="21.00" height="19.50" fill="url(#pshade)"/>
<rect x="1478.20" y="1460.50" width="6.60" height="327.10" fill="#c48a5a"/>
<rect x="1476.80" y="1460.50" width="1.60" height="327.10" fill="#3a2a20" opacity="0.7"/>
<rect x="1464.50" y="1754.50" width="12.50" height="8.30" fill="#222"/>
<rect x="1470.80" y="1788.70" width="786.20" height="6.20" fill="#d69b68"/>
<rect x="1470.80" y="1787.60" width="786.20" height="1.10" fill="#c58a5a"/>
<rect x="1478.20" y="1794.90" width="772.50" height="23.80" fill="#cb8e5e"/>
<rect x="1478.20" y="1794.90" width="772.50" height="4.10" fill="#5e3a22" opacity="0.5"/>
<rect x="1478.20" y="1818.70" width="772.50" height="167.70" fill="#bf875d"/>
<line x1="1525.60" y1="1818.70" x2="1525.60" y2="1986.40" stroke="#9f6a42" stroke-width="1.4"/>
<line x1="1547.00" y1="1818.70" x2="1547.00" y2="1986.40" stroke="#9f6a42" stroke-width="1.4"/>
<line x1="1568.40" y1="1818.70" x2="1568.40" y2="1986.40" stroke="#9f6a42" stroke-width="1.4"/>
<line x1="1589.80" y1="1818.70" x2="1589.80" y2="1986.40" stroke="#9f6a42" stroke-width="1.4"/>
<line x1="1611.20" y1="1818.70" x2="1611.20" y2="1986.40" stroke="#9f6a42" stroke-width="1.4"/>
<line x1="1673.60" y1="1818.70" x2="1673.60" y2="1986.40" stroke="#9f6a42" stroke-width="1.4"/>
<line x1="1695.00" y1="1818.70" x2="1695.00" y2="1986.40" stroke="#9f6a42" stroke-width="1.4"/>
<line x1="1716.40" y1="1818.70" x2="1716.40" y2="1986.40" stroke="#9f6a42" stroke-width="1.4"/>
<line x1="1737.80" y1="1818.70" x2="1737.80" y2="1986.40" stroke="#9f6a42" stroke-width="1.4"/>
<line x1="1759.20" y1="1818.70" x2="1759.20" y2="1986.40" stroke="#9f6a42" stroke-width="1.4"/>
<line x1="1820.30" y1="1818.70" x2="1820.30" y2="1986.40" stroke="#9f6a42" stroke-width="1.4"/>
<line x1="1841.70" y1="1818.70" x2="1841.70" y2="1986.40" stroke="#9f6a42" stroke-width="1.4"/>
<line x1="1863.10" y1="1818.70" x2="1863.10" y2="1986.40" stroke="#9f6a42" stroke-width="1.4"/>
<line x1="1884.50" y1="1818.70" x2="1884.50" y2="1986.40" stroke="#9f6a42" stroke-width="1.4"/>
<line x1="1905.90" y1="1818.70" x2="1905.90" y2="1986.40" stroke="#9f6a42" stroke-width="1.4"/>
<line x1="1967.00" y1="1818.70" x2="1967.00" y2="1986.40" stroke="#9f6a42" stroke-width="1.4"/>
<line x1="1988.40" y1="1818.70" x2="1988.40" y2="1986.40" stroke="#9f6a42" stroke-width="1.4"/>
<line x1="2009.80" y1="1818.70" x2="2009.80" y2="1986.40" stroke="#9f6a42" stroke-width="1.4"/>
<line x1="2031.20" y1="1818.70" x2="2031.20" y2="1986.40" stroke="#9f6a42" stroke-width="1.4"/>
<line x1="2052.60" y1="1818.70" x2="2052.60" y2="1986.40" stroke="#9f6a42" stroke-width="1.4"/>
<line x1="2113.50" y1="1818.70" x2="2113.50" y2="1986.40" stroke="#9f6a42" stroke-width="1.4"/>
<line x1="2134.90" y1="1818.70" x2="2134.90" y2="1986.40" stroke="#9f6a42" stroke-width="1.4"/>
<line x1="2156.30" y1="1818.70" x2="2156.30" y2="1986.40" stroke="#9f6a42" stroke-width="1.4"/>
<line x1="2177.70" y1="1818.70" x2="2177.70" y2="1986.40" stroke="#9f6a42" stroke-width="1.4"/>
<line x1="2199.10" y1="1818.70" x2="2199.10" y2="1986.40" stroke="#9f6a42" stroke-width="1.4"/>
<rect x="1479.70" y="1820.00" width="27.90" height="164.50" fill="#c98d5e"/>
<line x1="1479.70" y1="1820.00" x2="1479.70" y2="1984.50" stroke="#9a6a44" stroke-width="1.2"/>
<line x1="1507.60" y1="1820.00" x2="1507.60" y2="1984.50" stroke="#9a6a44" stroke-width="1.2"/>
<rect x="1631.60" y="1820.00" width="24.00" height="164.50" fill="#c98d5e"/>
<line x1="1631.60" y1="1820.00" x2="1631.60" y2="1984.50" stroke="#9a6a44" stroke-width="1.2"/>
<line x1="1655.60" y1="1820.00" x2="1655.60" y2="1984.50" stroke="#9a6a44" stroke-width="1.2"/>
<rect x="1778.30" y="1820.00" width="24.00" height="164.50" fill="#c98d5e"/>
<line x1="1778.30" y1="1820.00" x2="1778.30" y2="1984.50" stroke="#9a6a44" stroke-width="1.2"/>
<line x1="1802.30" y1="1820.00" x2="1802.30" y2="1984.50" stroke="#9a6a44" stroke-width="1.2"/>
<rect x="1925.00" y="1820.00" width="24.00" height="164.50" fill="#c98d5e"/>
<line x1="1925.00" y1="1820.00" x2="1925.00" y2="1984.50" stroke="#9a6a44" stroke-width="1.2"/>
<line x1="1949.00" y1="1820.00" x2="1949.00" y2="1984.50" stroke="#9a6a44" stroke-width="1.2"/>
<rect x="2071.50" y="1820.00" width="24.00" height="164.50" fill="#c98d5e"/>
<line x1="2071.50" y1="1820.00" x2="2071.50" y2="1984.50" stroke="#9a6a44" stroke-width="1.2"/>
<line x1="2095.50" y1="1820.00" x2="2095.50" y2="1984.50" stroke="#9a6a44" stroke-width="1.2"/>
<rect x="2221.00" y="1820.00" width="29.00" height="164.50" fill="#c98d5e"/>
<line x1="2221.00" y1="1820.00" x2="2221.00" y2="1984.50" stroke="#9a6a44" stroke-width="1.2"/>
<line x1="2250.00" y1="1820.00" x2="2250.00" y2="1984.50" stroke="#9a6a44" stroke-width="1.2"/>
<rect x="1478.20" y="1986.40" width="772.50" height="36.00" fill="#cb8e5e"/>
<rect x="1478.20" y="1986.40" width="772.50" height="1.60" fill="#b57b4e"/>
<circle cx="1495.60" cy="1801.00" r="3.0" fill="#201c1a"/>
<circle cx="1495.60" cy="1812.50" r="3.0" fill="#201c1a"/>
<circle cx="1495.60" cy="1996.70" r="3.0" fill="#201c1a"/>
<circle cx="1495.60" cy="2013.30" r="3.0" fill="#201c1a"/>
<circle cx="1643.60" cy="1801.00" r="3.0" fill="#201c1a"/>
<circle cx="1643.60" cy="1812.50" r="3.0" fill="#201c1a"/>
<circle cx="1643.60" cy="1996.70" r="3.0" fill="#201c1a"/>
<circle cx="1643.60" cy="2013.30" r="3.0" fill="#201c1a"/>
<circle cx="1790.30" cy="1801.00" r="3.0" fill="#201c1a"/>
<circle cx="1790.30" cy="1812.50" r="3.0" fill="#201c1a"/>
<circle cx="1790.30" cy="1996.70" r="3.0" fill="#201c1a"/>
<circle cx="1790.30" cy="2013.30" r="3.0" fill="#201c1a"/>
<circle cx="1937.00" cy="1801.00" r="3.0" fill="#201c1a"/>
<circle cx="1937.00" cy="1812.50" r="3.0" fill="#201c1a"/>
<circle cx="1937.00" cy="1996.70" r="3.0" fill="#201c1a"/>
<circle cx="1937.00" cy="2013.30" r="3.0" fill="#201c1a"/>
<circle cx="2083.50" cy="1801.00" r="3.0" fill="#201c1a"/>
<circle cx="2083.50" cy="1812.50" r="3.0" fill="#201c1a"/>
<circle cx="2083.50" cy="1996.70" r="3.0" fill="#201c1a"/>
<circle cx="2083.50" cy="2013.30" r="3.0" fill="#201c1a"/>
<circle cx="2232.60" cy="1801.00" r="3.0" fill="#201c1a"/>
<circle cx="2232.60" cy="1812.50" r="3.0" fill="#201c1a"/>
<circle cx="2232.60" cy="1996.70" r="3.0" fill="#201c1a"/>
<circle cx="2232.60" cy="2013.30" r="3.0" fill="#201c1a"/>
<circle cx="2039.50" cy="1978.00" r="4.5" fill="#8a8a8a"/>
<circle cx="2039.50" cy="1978.00" r="2.2" fill="#d8d8d8"/>
<line x1="310.50" y1="1186.00" x2="528.50" y2="1186.00" stroke="#1b5393" stroke-width="2.6"/>
<line x1="656.50" y1="1186.00" x2="875.40" y2="1186.00" stroke="#1b5393" stroke-width="2.6"/>
<polygon points="310.50,1186.00 340.50,1178.00 340.50,1194.00" fill="#1b5393"/>
<polygon points="875.40,1186.00 845.40,1178.00 845.40,1194.00" fill="#1b5393"/>
<line x1="310.50" y1="1152.40" x2="310.50" y2="1409.00" stroke="#1b5393" stroke-width="2.2"/>
<line x1="875.40" y1="1152.40" x2="875.40" y2="1409.00" stroke="#1b5393" stroke-width="2.2"/>
<line x1="199.10" y1="1463.00" x2="199.10" y2="1689.00" stroke="#1b5393" stroke-width="2.6"/>
<line x1="199.10" y1="1759.20" x2="199.10" y2="2021.80" stroke="#1b5393" stroke-width="2.6"/>
<polygon points="199.10,1463.00 191.10,1493.00 207.10,1493.00" fill="#1b5393"/>
<polygon points="199.10,2021.80 191.10,1991.80 207.10,1991.80" fill="#1b5393"/>
<line x1="167.20" y1="1463.00" x2="302.70" y2="1463.00" stroke="#1b5393" stroke-width="2.2"/>
<line x1="167.20" y1="2021.80" x2="302.70" y2="2021.80" stroke="#1b5393" stroke-width="2.2"/>
<line x1="302.70" y1="2021.80" x2="332.50" y2="2021.80" stroke="#1b5393" stroke-width="2.2"/>
<line x1="342.60" y1="2140.30" x2="536.00" y2="2140.30" stroke="#1b5393" stroke-width="2.6"/>
<line x1="659.00" y1="2140.30" x2="843.20" y2="2140.30" stroke="#1b5393" stroke-width="2.6"/>
<polygon points="342.60,2140.30 372.60,2132.30 372.60,2148.30" fill="#1b5393"/>
<polygon points="843.20,2140.30 813.20,2132.30 813.20,2148.30" fill="#1b5393"/>
<line x1="342.60" y1="2031.60" x2="342.60" y2="2162.00" stroke="#1b5393" stroke-width="2.2"/>
<line x1="843.20" y1="2031.60" x2="843.20" y2="2162.00" stroke="#1b5393" stroke-width="2.2"/>
<line x1="1106.00" y1="1460.60" x2="1106.00" y2="1681.00" stroke="#1b5393" stroke-width="2.6"/>
<line x1="1106.00" y1="1752.00" x2="1106.00" y2="2021.70" stroke="#1b5393" stroke-width="2.6"/>
<polygon points="1106.00,1460.60 1098.00,1490.60 1114.00,1490.60" fill="#1b5393"/>
<polygon points="1106.00,2021.70 1098.00,1991.70 1114.00,1991.70" fill="#1b5393"/>
<line x1="1070.50" y1="1460.60" x2="1183.50" y2="1460.60" stroke="#1b5393" stroke-width="2.2"/>
<line x1="1070.50" y1="2021.70" x2="1183.50" y2="2021.70" stroke="#1b5393" stroke-width="2.2"/>
<line x1="1183.50" y1="2021.70" x2="1220.20" y2="2021.70" stroke="#1b5393" stroke-width="2.2"/>
<line x1="2352.00" y1="1249.50" x2="2352.00" y2="1626.60" stroke="#1b5393" stroke-width="2.6"/>
<line x1="2352.00" y1="1690.40" x2="2352.00" y2="2022.10" stroke="#1b5393" stroke-width="2.6"/>
<polygon points="2352.00,1249.50 2344.00,1279.50 2360.00,1279.50" fill="#1b5393"/>
<polygon points="2352.00,2022.10 2344.00,1992.10 2360.00,1992.10" fill="#1b5393"/>
<line x1="2268.80" y1="1249.50" x2="2382.30" y2="1249.50" stroke="#1b5393" stroke-width="2.2"/>
<line x1="2268.80" y1="2022.10" x2="2382.30" y2="2022.10" stroke="#1b5393" stroke-width="2.2"/>
<line x1="2256.40" y1="2022.10" x2="2268.80" y2="2022.10" stroke="#1b5393" stroke-width="2.2"/>
<line x1="1478.50" y1="2067.70" x2="1810.60" y2="2067.70" stroke="#1b5393" stroke-width="2.6"/>
<line x1="1948.00" y1="2067.70" x2="2250.70" y2="2067.70" stroke="#1b5393" stroke-width="2.6"/>
<polygon points="1478.50,2067.70 1508.50,2059.70 1508.50,2075.70" fill="#1b5393"/>
<polygon points="2250.70,2067.70 2220.70,2059.70 2220.70,2075.70" fill="#1b5393"/>
<line x1="1478.50" y1="2025.60" x2="1478.50" y2="2103.60" stroke="#1b5393" stroke-width="2.2"/>
<line x1="2250.70" y1="2025.60" x2="2250.70" y2="2103.60" stroke="#1b5393" stroke-width="2.2"/>
<line x1="1234.80" y1="2150.80" x2="1662.00" y2="2150.80" stroke="#1b5393" stroke-width="2.6"/>
<line x1="1801.30" y1="2150.80" x2="2250.70" y2="2150.80" stroke="#1b5393" stroke-width="2.6"/>
<polygon points="1234.80,2150.80 1264.80,2142.80 1264.80,2158.80" fill="#1b5393"/>
<polygon points="2250.70,2150.80 2220.70,2142.80 2220.70,2158.80" fill="#1b5393"/>
<line x1="1234.80" y1="2031.70" x2="1234.80" y2="2172.50" stroke="#1b5393" stroke-width="2.2"/>
<line x1="2250.70" y1="2031.70" x2="2250.70" y2="2172.50" stroke="#1b5393" stroke-width="2.2"/>
<text transform="translate(247.70,766.90) scale(0.9858,1.5828)" font-family="Liberation Sans" font-weight="bold" font-size="100" letter-spacing="6" fill="#1b5191" stroke="#1b5191" stroke-width="2.024" stroke-linejoin="miter">BELLEROSE</text>
<text transform="translate(316.78,858.30) scale(0.7050,0.7660)" font-family="Liberation Sans" font-weight="normal" font-size="100" letter-spacing="0" fill="#1b5191" stroke="#fff" stroke-width="0.136" stroke-linejoin="round">GREENHOUSE</text>
<text transform="translate(1032.19,351.40) scale(0.5774,0.6453)" font-family="Liberation Sans" font-weight="normal" font-size="100" letter-spacing="0" fill="#1b5393" stroke="#fff" stroke-width="3.599" stroke-linejoin="round">5.8 LINEAR METERS OF SHELVING/WORKSPACE</text>
<text transform="translate(1415.43,1087.00) scale(0.5660,0.8503)" font-family="Liberation Sans" font-weight="bold" font-size="100" letter-spacing="8" fill="#8ba6c7" stroke="#8ba6c7" stroke-width="3.389" stroke-linejoin="miter">TOP/INTERIOR VIEW</text>
<text transform="translate(383.60,2273.00) scale(0.5568,0.8430)" font-family="Liberation Sans" font-weight="bold" font-size="100" letter-spacing="8" fill="#8ba6c7" stroke="#8ba6c7" stroke-width="3.429" stroke-linejoin="miter">FRONT VIEW</text>
<text transform="translate(1569.51,2272.80) scale(0.5620,0.8488)" font-family="Liberation Sans" font-weight="bold" font-size="100" letter-spacing="8" fill="#8ba6c7" stroke="#8ba6c7" stroke-width="3.402" stroke-linejoin="miter">SIDE VIEW</text>
<text transform="translate(536.28,1206.80) scale(0.5630,0.5829)" font-family="Liberation Sans" font-size="100" fill="#1b5393" stroke="#fff" stroke-width="2.618">2</text><rect x="570.40" y="1199.25" width="3.30" height="7.55" fill="#1b5393"/><rect x="589.20" y="1166.00" width="3.40" height="40.80" fill="#1b5393"/><polygon points="592.60,1166.00 580.10,1172.73 580.10,1175.33 589.20,1170.37 589.20,1166.82" fill="#1b5393"/><text transform="translate(600.59,1206.80) scale(0.5690,0.5780)" font-family="Liberation Sans" font-size="100" fill="#1b5393" stroke="#fff" stroke-width="2.615">m</text>
<text transform="translate(143.16,1746.00) scale(0.5478,0.5886)" font-family="Liberation Sans" font-size="100" fill="#1b5393" stroke="#fff" stroke-width="2.640">2</text><rect x="177.40" y="1738.38" width="2.70" height="7.62" fill="#1b5393"/><rect x="196.10" y="1704.80" width="3.00" height="41.20" fill="#1b5393"/><polygon points="199.10,1704.80 187.10,1711.60 187.10,1714.20 196.10,1709.21 196.10,1705.62" fill="#1b5393"/><text transform="translate(206.97,1746.00) scale(0.5718,0.5837)" font-family="Liberation Sans" font-size="100" fill="#1b5393" stroke="#fff" stroke-width="2.596">m</text>
<rect x="553.50" y="2123.30" width="3.40" height="38.70" fill="#1b5393"/><polygon points="556.90,2123.30 545.10,2129.69 545.10,2132.29 553.50,2127.44 553.50,2124.07" fill="#1b5393"/><rect x="566.30" y="2154.84" width="3.40" height="7.16" fill="#1b5393"/><text transform="translate(573.62,2161.45) scale(0.5187,0.5451)" font-family="Liberation Sans" font-size="100" fill="#1b5393" stroke="#fff" stroke-width="2.820">8</text><text transform="translate(604.46,2162.00) scale(0.5394,0.5482)" font-family="Liberation Sans" font-size="100" fill="#1b5393" stroke="#fff" stroke-width="2.758">m</text>
<text transform="translate(1052.66,1732.70) scale(0.5674,0.5857)" font-family="Liberation Sans" font-size="100" fill="#1b5393" stroke="#fff" stroke-width="2.602">2</text><rect x="1087.80" y="1725.12" width="3.10" height="7.58" fill="#1b5393"/><rect x="1104.80" y="1691.70" width="3.80" height="41.00" fill="#1b5393"/><polygon points="1108.60,1691.70 1096.50,1698.47 1096.50,1701.07 1104.80,1696.09 1104.80,1692.52" fill="#1b5393"/><text transform="translate(1116.60,1732.70) scale(0.5831,0.5808)" font-family="Liberation Sans" font-size="100" fill="#1b5393" stroke="#fff" stroke-width="2.577">m</text>
<text transform="translate(2299.62,1680.00) scale(0.5565,0.5857)" font-family="Liberation Sans" font-size="100" fill="#1b5393" stroke="#fff" stroke-width="2.626">2</text><rect x="2334.00" y="1672.41" width="3.20" height="7.58" fill="#1b5393"/><text transform="translate(2341.66,1679.42) scale(0.5362,0.5775)" font-family="Liberation Sans" font-size="100" fill="#1b5393" stroke="#fff" stroke-width="2.694">9</text><text transform="translate(2374.44,1680.00) scale(0.5775,0.5808)" font-family="Liberation Sans" font-size="100" fill="#1b5393" stroke="#fff" stroke-width="2.590">m</text>
<text transform="translate(1817.92,2089.30) scale(0.5565,0.5814)" font-family="Liberation Sans" font-size="100" fill="#1b5393" stroke="#fff" stroke-width="2.636">2</text><rect x="1852.50" y="2081.77" width="3.30" height="7.53" fill="#1b5393"/><text transform="translate(1860.41,2088.73) scale(0.5468,0.5732)" font-family="Liberation Sans" font-size="100" fill="#1b5393" stroke="#fff" stroke-width="2.678">9</text><text transform="translate(1892.52,2089.30) scale(0.5803,0.5766)" font-family="Liberation Sans" font-size="100" fill="#1b5393" stroke="#fff" stroke-width="2.593">m</text>
<text transform="translate(1670.27,2171.93) scale(0.5333,0.5746)" font-family="Liberation Sans" font-size="100" fill="#1b5393" stroke="#fff" stroke-width="2.708">3</text><rect x="1705.80" y="2164.95" width="3.50" height="7.55" fill="#1b5393"/><text transform="translate(1713.77,2171.93) scale(0.5333,0.5746)" font-family="Liberation Sans" font-size="100" fill="#1b5393" stroke="#fff" stroke-width="2.708">8</text><text transform="translate(1746.52,2172.50) scale(0.5803,0.5780)" font-family="Liberation Sans" font-size="100" fill="#1b5393" stroke="#fff" stroke-width="2.590">m</text></svg></body></html>
